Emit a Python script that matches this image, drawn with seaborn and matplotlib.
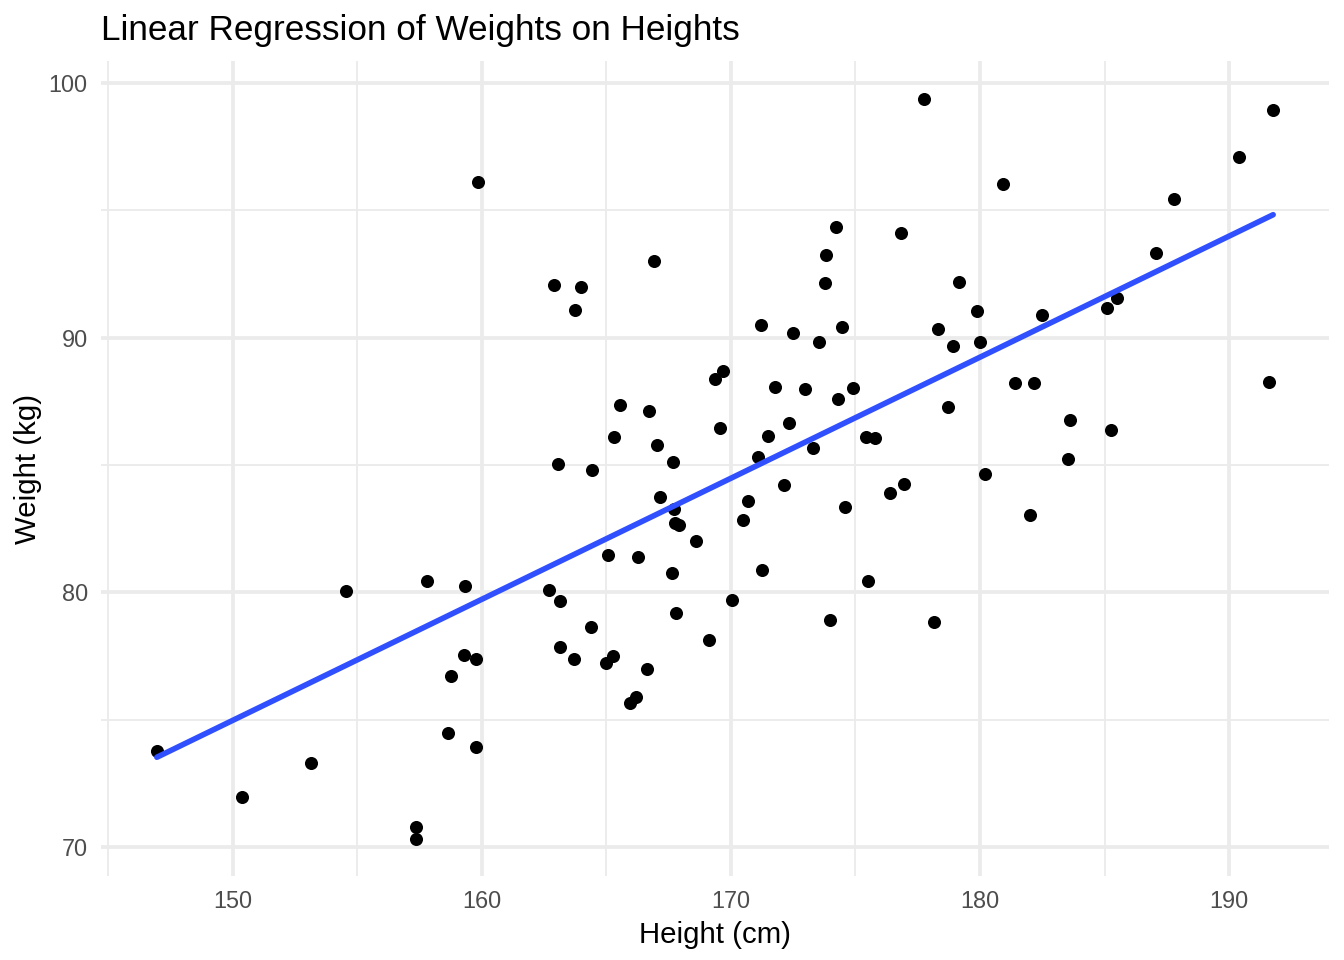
import numpy as np
import pandas as pd
import matplotlib
matplotlib.use('Agg')
import matplotlib.pyplot as plt
import seaborn as sns

# heights (cm) and weights (kg)
height = [146.95, 150.36, 153.13, 154.54, 157.79, 159.32, 159.28, 159.76, 158.76, 158.63,
          159.76, 157.35, 157.35, 159.84,
          162.89, 163.98, 163.73, 166.91, 169.36, 165.54, 166.70, 165.30, 167.03, 169.55,
          163.05, 164.42, 167.67, 167.15, 167.71, 167.75, 167.90, 168.60, 165.06, 166.27,
          167.63, 162.69, 163.13, 167.80, 164.38, 169.12, 163.13, 163.70, 165.26, 164.98,
          166.63, 166.18, 165.94,
          171.20, 172.50, 173.53, 174.46, 174.20, 173.80, 173.78, 176.83, 169.68, 171.77,
          172.97, 174.30, 174.90, 172.33, 171.49, 173.30, 175.42, 175.78, 171.08,
          172.13, 170.68, 170.48, 174.58, 176.39, 176.95, 171.24, 175.50, 170.04, 173.98,
          177.75, 180.92, 191.77, 190.40, 187.79, 187.07, 179.16, 179.88, 178.31, 178.92,
          180.00, 182.49, 185.10, 185.50,
          181.40, 182.17, 191.60, 178.71, 183.61, 185.26, 183.53, 180.20, 182.00, 178.15]
weight = [73.75, 71.95, 73.28, 80.04, 80.43, 80.24, 77.52, 77.40, 76.70, 74.46,
          73.91, 70.77, 70.30, 96.11,
          92.06, 91.98, 91.08, 93.00, 88.37, 87.35, 87.11, 86.09, 85.78, 86.44,
          85.03, 84.80, 85.10, 83.73, 83.26, 82.71, 82.63, 82.00, 81.45, 81.37,
          80.75, 80.08, 79.65, 79.17, 78.62, 78.11, 77.84, 77.37, 77.49, 77.21,
          77.00, 75.87, 75.64,
          90.50, 90.18, 89.82, 90.41, 94.34, 93.24, 92.14, 94.10, 88.68, 88.05,
          87.98, 87.58, 88.02, 86.64, 86.13, 85.66, 86.10, 86.05, 85.30,
          84.20, 83.58, 82.83, 83.34, 83.89, 84.24, 80.86, 80.43, 79.69, 78.90,
          99.37, 96.03, 98.94, 97.09, 95.44, 93.32, 92.18, 91.04, 90.33, 89.67,
          89.82, 90.88, 91.16, 91.55,
          88.21, 88.21, 88.25, 87.27, 86.76, 86.37, 85.23, 84.64, 83.03, 78.82]

df = pd.DataFrame({'Height': height, 'Weight': weight})

sns.set_theme(style='white')
plt.rcParams['font.family'] = ['Liberation Sans', 'DejaVu Sans']

fig = plt.figure(figsize=(7, 5), dpi=192)
ax = fig.add_axes([0.0752, 0.087, 0.9136, 0.8495])

sns.regplot(data=df, x='Height', y='Weight', ci=None, ax=ax,
            scatter_kws=dict(s=24, color='black', alpha=1, linewidths=0, zorder=3),
            line_kws=dict(color='#3050FF', lw=2.1, zorder=4))

ax.set_xlim(144.71, 194.01)
ax.set_ylim(68.84, 100.87)
ax.set_xticks([150, 160, 170, 180, 190])
ax.set_yticks([70, 80, 90, 100])
ax.set_xticks([145, 155, 165, 175, 185], minor=True)
ax.set_yticks([75, 85, 95], minor=True)
ax.grid(True, which='major', color='#EBEBEB', lw=1.4, zorder=0)
ax.grid(True, which='minor', color='#EBEBEB', lw=0.7, zorder=0)
ax.set_axisbelow(True)
for s in ax.spines.values():
    s.set_visible(False)
ax.tick_params(which='both', length=0, pad=5, labelsize=8.8, labelcolor='#4D4D4D')

ax.set_xlabel('Height (cm)', fontsize=11, color='black', labelpad=3)
ax.set_ylabel('Weight (kg)', fontsize=11, color='black', labelpad=2.5)
ax.set_title('Linear Regression of Weights on Heights', fontsize=13.2, loc='left',
             color='black', pad=8)

fig.savefig('out.png', dpi=192)
